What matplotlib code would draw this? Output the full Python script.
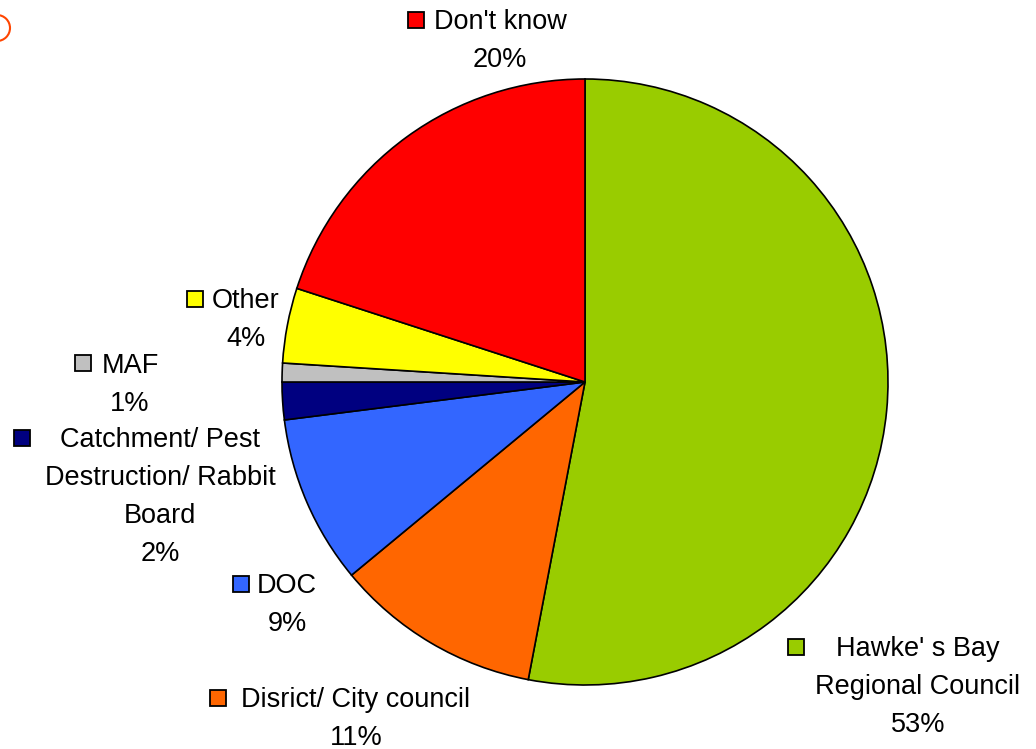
import matplotlib.pyplot as plt
from matplotlib.patches import Circle

labels = ["Hawke' s Bay\nRegional Council", "Disrict/ City council", "DOC",
          "Catchment/ Pest\nDestruction/ Rabbit\nBoard", "MAF", "Other", "Don't know"]
shares = [53, 11, 9, 2, 1, 4, 20]
colors = ["#99cc00", "#ff6600", "#3366ff", "#000080", "#c0c0c0", "#ffff00", "#ff0000"]

# label layout in pixels from top-left: (text centre x, first baseline y, marker x, marker y)
label_pos = [(918, 656, 796, 647), (356, 707, 218, 698), (287, 593, 241, 584),
             (160, 447, 22, 438), (130, 373, 83, 363), (246, 308, 195, 299),
             (500, 29, 416, 20)]
pitch = 38

W, H = 1036, 749
plt.rcParams['font.family'] = ['Liberation Sans', 'DejaVu Sans']
fig = plt.figure(figsize=(W / 100, H / 100), dpi=100)
ax = fig.add_axes([0, 0, 1, 1])

ax.pie(shares, colors=colors, startangle=90, counterclock=False,
       center=(585, H - 382), radius=303, frame=True,
       wedgeprops=dict(edgecolor='black', linewidth=1.2))
ax.set_xlim(0, W)
ax.set_ylim(0, H)
ax.set_aspect('equal')
ax.axis('off')

fs = 19.5
for lab, val, col, (cx, y0, mx, my) in zip(labels, shares, colors, label_pos):
    lines = lab.split("\n") + [f"{val}%"]
    for i, line in enumerate(lines):
        ax.text(cx, H - (y0 + i * pitch), line, ha='center', va='baseline', fontsize=fs)
    ax.plot([mx], [H - my], marker='s', markersize=11.5, color=col,
            markeredgecolor='black', markeredgewidth=1.3)

# stray marker arc top-left
ax.add_patch(Circle((-3, H - 28), 13, fill=False, edgecolor='#ff4500', linewidth=1.5))

fig.savefig("out.png", dpi=100)
